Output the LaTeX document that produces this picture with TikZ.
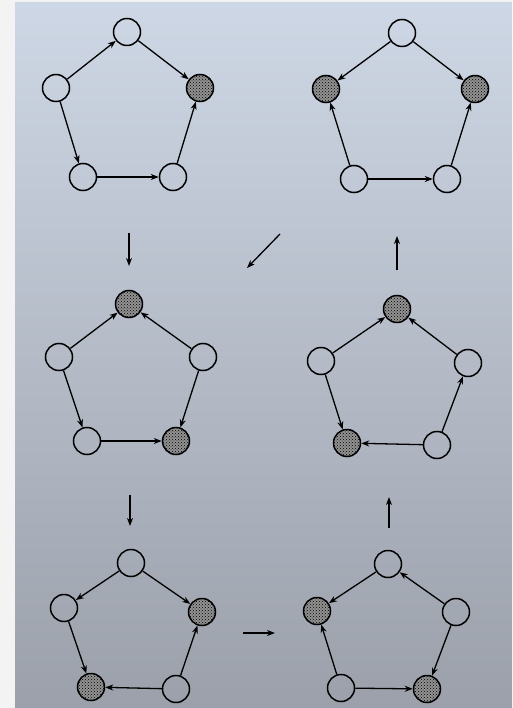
\documentclass[tikz,border=0pt]{standalone}
\usetikzlibrary{arrows.meta,patterns}
\definecolor{pagetop}{RGB}{206,215,229}
\definecolor{pagebot}{RGB}{155,160,170}
\definecolor{margin}{RGB}{243,243,243}

\begin{document}
\begin{tikzpicture}[x=1pt, y=-1pt, >={Stealth[length=8pt,width=6pt,inset=2.5pt]},
  every node/.style={draw, circle, line width=1.5pt, minimum size=27pt, inner sep=0pt},
  hot/.style={fill=gray!85, postaction={pattern=crosshatch dots, pattern color=black}},
  edge/.style={->, line width=1.3pt}]
% page
\fill[margin] (0,0) rectangle (512,708);
\shade[top color=pagetop, bottom color=pagebot] (15,3) rectangle (512,708);
\useasboundingbox (0,0) rectangle (512,708);

% top left
\node (a1) at (127,32) {};
\node (a2) at (56,88) {};
\node[hot] (a3) at (200,88) {};
\node (a4) at (83,177) {};
\node (a5) at (173,177) {};
\draw[edge] (a2) -- (a1);
\draw[edge] (a1) -- (a3);
\draw[edge] (a2) -- (a4);
\draw[edge] (a4) -- (a5);
\draw[edge] (a5) -- (a3);

% top right
\node (b1) at (402,33) {};
\node[hot] (b2) at (326,89) {};
\node[hot] (b3) at (475,89) {};
\node (b4) at (354,179) {};
\node (b5) at (447,179) {};
\draw[edge] (b1) -- (b2);
\draw[edge] (b1) -- (b3);
\draw[edge] (b4) -- (b2);
\draw[edge] (b4) -- (b5);
\draw[edge] (b5) -- (b3);

% middle left
\node[hot] (c1) at (129,304) {};
\node (c2) at (59,357) {};
\node (c3) at (203,357) {};
\node (c4) at (87,441) {};
\node[hot] (c5) at (176,441) {};
\draw[edge] (c2) -- (c1);
\draw[edge] (c3) -- (c1);
\draw[edge] (c2) -- (c4);
\draw[edge] (c3) -- (c5);
\draw[edge] (c4) -- (c5);

% middle right
\node[hot] (d1) at (397,309) {};
\node (d2) at (321,361) {};
\node (d3) at (468,363) {};
\node[hot] (d4) at (347,443) {};
\node (d5) at (437,445) {};
\draw[edge] (d2) -- (d1);
\draw[edge] (d3) -- (d1);
\draw[edge] (d2) -- (d4);
\draw[edge] (d5) -- (d4);
\draw[edge] (d5) -- (d3);

% bottom left
\node (e1) at (131,563) {};
\node (e2) at (64,608) {};
\node[hot] (e3) at (202,612) {};
\node[hot] (e4) at (91,687) {};
\node (e5) at (176,689) {};
\draw[edge] (e1) -- (e2);
\draw[edge] (e1) -- (e3);
\draw[edge] (e2) -- (e4);
\draw[edge] (e5) -- (e4);
\draw[edge] (e5) -- (e3);

% bottom right
\node (f1) at (388,564) {};
\node[hot] (f2) at (317,611) {};
\node (f3) at (456,612) {};
\node (f4) at (341,688) {};
\node[hot] (f5) at (427,689) {};
\draw[edge] (f1) -- (f2);
\draw[edge] (f3) -- (f1);
\draw[edge] (f4) -- (f2);
\draw[edge] (f4) -- (f5);
\draw[edge] (f3) -- (f5);

% steps between the graphs
\coordinate (ab) at (129,233);
\coordinate (ab') at (129,266);
\coordinate (bc) at (280,234);
\coordinate (bc') at (247,268);
\coordinate (db) at (397,270);
\coordinate (db') at (397,236);
\coordinate (ce) at (130,495);
\coordinate (ce') at (130,526);
\coordinate (ef) at (243,633);
\coordinate (ef') at (275,633);
\coordinate (fd) at (389,528);
\coordinate (fd') at (389,497);
\draw[edge] (ab) -- (ab');
\draw[edge] (bc) -- (bc');
\draw[edge] (db) -- (db');
\draw[edge] (ce) -- (ce');
\draw[edge] (ef) -- (ef');
\draw[edge] (fd) -- (fd');
\end{tikzpicture}
\end{document}
